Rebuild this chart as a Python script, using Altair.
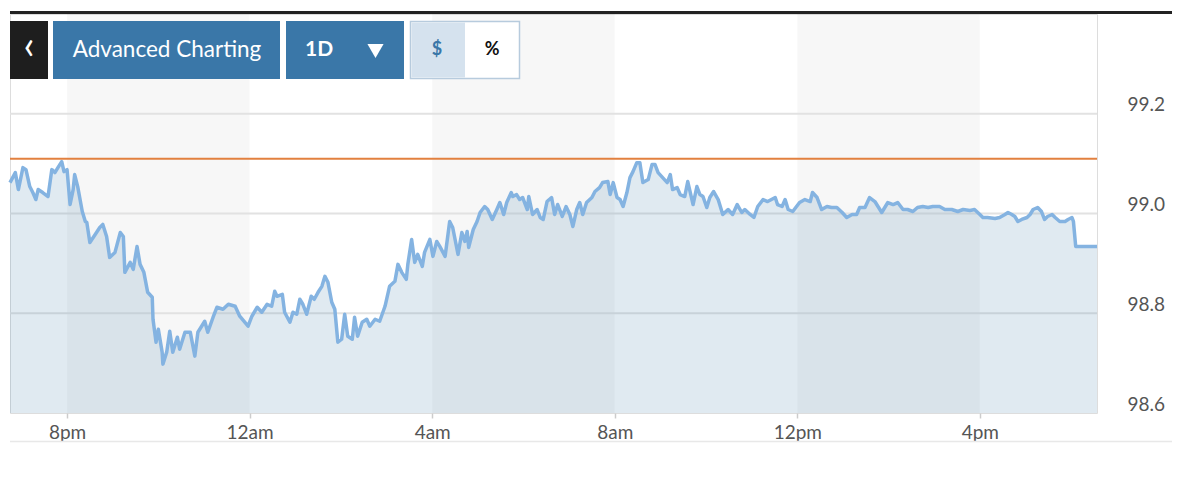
import altair as alt
import pandas as pd

# ---- data ----
# minutes after 18:45 (session start) and price
t_min = [0, 7, 11, 17, 21, 26, 30, 34, 37, 43, 50, 55, 59, 63, 68, 71, 75, 79, 83, 85,
         89, 95, 99, 101, 105, 112, 118, 122, 127, 131, 138, 145, 149, 151, 158, 162, 167, 171, 176, 181,
         187, 188, 192, 195, 200, 201, 206, 210, 214, 220, 223, 230, 237, 243, 247, 256, 260, 267, 272, 280,
         287, 296, 302, 313, 318, 325, 331, 338, 344, 348, 351, 358, 361, 368, 372, 377, 381, 385, 390, 396,
         400, 405, 410, 414, 418, 423, 427, 431, 436, 440, 444, 450, 453, 457, 463, 469, 473, 480, 486, 493,
         499, 506, 510, 515, 521, 523, 528, 532, 536, 542, 545, 552, 556, 561, 565, 572, 578, 582, 589, 594,
         598, 601, 603, 609, 614, 618, 624, 628, 634, 640, 644, 649, 653, 659, 661, 666, 670, 674, 680, 682,
         687, 693, 697, 701, 706, 712, 716, 720, 726, 731, 736, 740, 745, 749, 753, 758, 765, 769, 775, 779,
         786, 789, 793, 798, 802, 806, 811, 815, 819, 824, 828, 832, 839, 844, 848, 852, 858, 864, 868, 871,
         877, 881, 887, 891, 898, 903, 907, 911, 916, 920, 925, 931, 937, 944, 950, 956, 962, 966, 973, 978,
         983, 990, 996, 1006, 1009, 1015, 1019, 1023, 1029, 1038, 1045, 1052, 1055, 1061, 1067, 1074, 1080, 1087, 1094, 1100,
         1107, 1113, 1117, 1124, 1130, 1137, 1146, 1154, 1161, 1167, 1174, 1180, 1187, 1193, 1200, 1207, 1213, 1222, 1229, 1238,
         1246, 1253, 1262, 1268, 1275, 1279, 1285, 1295, 1301, 1308, 1312, 1317, 1321, 1325, 1330, 1337, 1341, 1345, 1351, 1356,
         1360, 1364, 1370, 1374, 1380, 1387, 1391, 1396, 1398, 1401, 1429]
price = [99.062, 99.082, 99.048, 99.092, 99.088, 99.054, 99.042, 99.028, 99.048, 99.042, 99.034, 99.088, 99.082, 99.092, 99.104, 99.084, 99.088, 99.018, 99.048, 99.078,
         99.054, 99.004, 98.984, 98.982, 98.942, 98.958, 98.972, 98.978, 98.954, 98.912, 98.922, 98.962, 98.954, 98.882, 98.902, 98.888, 98.934, 98.898, 98.882, 98.842,
         98.832, 98.788, 98.742, 98.768, 98.722, 98.698, 98.722, 98.764, 98.722, 98.752, 98.728, 98.762, 98.762, 98.714, 98.762, 98.784, 98.762, 98.792, 98.812, 98.808,
         98.818, 98.814, 98.794, 98.774, 98.794, 98.812, 98.802, 98.818, 98.814, 98.844, 98.834, 98.838, 98.802, 98.782, 98.802, 98.798, 98.828, 98.818, 98.798, 98.834,
         98.828, 98.842, 98.854, 98.874, 98.862, 98.822, 98.808, 98.742, 98.748, 98.798, 98.754, 98.748, 98.792, 98.754, 98.782, 98.788, 98.774, 98.788, 98.784, 98.814,
         98.854, 98.864, 98.898, 98.882, 98.868, 98.898, 98.948, 98.902, 98.918, 98.894, 98.922, 98.948, 98.914, 98.944, 98.934, 98.914, 98.984, 98.972, 98.918, 98.962,
         98.944, 98.964, 98.932, 98.968, 98.984, 99.002, 99.014, 99.008, 98.988, 99.008, 99.022, 98.998, 99.022, 99.042, 99.034, 99.038, 99.028, 99.032, 99.008, 99.034,
         98.998, 99.008, 98.992, 98.988, 99.024, 99.032, 98.998, 99.018, 98.994, 99.014, 98.998, 98.974, 99.008, 99.022, 98.998, 99.022, 99.032, 99.044, 99.052, 99.062,
         99.064, 99.038, 99.062, 99.032, 99.028, 99.014, 99.042, 99.072, 99.084, 99.102, 99.102, 99.062, 99.068, 99.098, 99.098, 99.082, 99.072, 99.062, 99.078, 99.048,
         99.052, 99.038, 99.034, 99.064, 99.018, 99.054, 99.038, 99.034, 99.012, 99.032, 99.044, 99.028, 98.998, 99.008, 98.998, 99.018, 99.002, 99.008, 98.998, 98.992,
         99.014, 99.028, 99.024, 99.032, 99.018, 99.014, 99.028, 99.008, 99.004, 99.022, 99.028, 99.024, 99.042, 99.032, 99.008, 99.014, 99.012, 99.012, 99.002, 98.992,
         98.998, 98.998, 99.012, 99.012, 99.032, 99.024, 99.002, 99.022, 99.018, 99.022, 99.008, 99.008, 99.004, 99.012, 99.014, 99.012, 99.014, 99.014, 99.008, 99.008,
         99.004, 99.008, 99.006, 99.008, 98.998, 98.992, 98.992, 98.990, 98.992, 98.998, 99.002, 98.998, 98.994, 98.984, 98.988, 98.992, 98.998, 99.008, 99.012, 99.004,
         98.988, 98.994, 98.998, 98.992, 98.984, 98.984, 98.988, 98.992, 98.984, 98.934, 98.934]

prev_close = [99.11]
x_domain = [0, 1429]
y_domain = [98.6, 99.4]
tick_minutes = [75, 315, 555, 795, 1035, 1275]
tick_labels = ["8pm", "12am", "4am", "8am", "12pm", "4pm"]
y_ticks = [98.6, 98.8, 99.0, 99.2]
grid_vals = [98.8, 99.0, 99.2]
band_start = [75, 555, 1035]
band_end = [315, 795, 1275]

df = pd.DataFrame({"t": t_min, "price": price})
df["base"] = y_domain[0]
bands = pd.DataFrame({"s": band_start, "e": band_end})
grid = pd.DataFrame({"g": grid_vals})
pc = pd.DataFrame({"p": prev_close})
one = pd.DataFrame({"k": [0]})

W, H = 1087, 399
FONT = "Lato"

label_expr = ""
for v, l in zip(tick_minutes, tick_labels):
    label_expr += f"datum.value == {v} ? '{l}' : "
label_expr += "''"

xs = alt.Scale(domain=x_domain, nice=False, zero=False)
ys = alt.Scale(domain=y_domain, nice=False, zero=False)

band_layer = alt.Chart(bands).mark_rect(fill="#000000", fillOpacity=0.032).encode(
    x=alt.X("s:Q", scale=xs), x2="e:Q", y=alt.value(0), y2=alt.value(H)
)

grid_layer = alt.Chart(grid).mark_rule(color="#e2e2e2", strokeWidth=2).encode(
    y=alt.Y("g:Q", scale=ys), x=alt.value(0), x2=alt.value(W)
)

area = alt.Chart(df).mark_area(fill="#6496b9", fillOpacity=0.2).encode(
    x=alt.X("t:Q", scale=xs, axis=alt.Axis(
        values=tick_minutes, labelExpr=label_expr, title=None, grid=False, domain=False,
        ticks=True, tickSize=5, tickColor="#cccccc", tickWidth=1.5, labelPadding=5,
        labelFont=FONT, labelFontSize=19, labelColor="#555555")),
    y=alt.Y("price:Q", scale=ys, axis=alt.Axis(
        orient="right", values=y_ticks, format=".1f", title=None, grid=False, domain=False,
        ticks=False, tickSize=0, labelPadding=30, labelAlign="left", labelBaseline="alphabetic",
        labelOffset=-3, labelFont=FONT, labelFontSize=19, labelColor="#555555")),
    y2="base:Q",
)

line = alt.Chart(df).mark_line(color="#84b3e1", strokeWidth=3.5, strokeJoin="round").encode(
    x=alt.X("t:Q", scale=xs), y=alt.Y("price:Q", scale=ys)
)

pc_layer = alt.Chart(pc).mark_rule(color="#e2803f", strokeWidth=2).encode(
    y=alt.Y("p:Q", scale=ys), x=alt.value(0), x2=alt.value(W)
)

# decorations (toolbar and frame lines)
top_line = alt.Chart(one).mark_rule(color="#222222", strokeWidth=3).encode(
    x=alt.value(0), x2=alt.value(1162), y=alt.value(-1.5))
bottom_line = alt.Chart(one).mark_rule(color="#e8e8e8", strokeWidth=1.5).encode(
    x=alt.value(0), x2=alt.value(1162), y=alt.value(427.5))

back_btn = alt.Chart(one).mark_rect(fill="#1e1e1e").encode(
    x=alt.value(0), x2=alt.value(38), y=alt.value(7), y2=alt.value(65))
back_txt = alt.Chart(one).mark_text(font=FONT, fontSize=40, color="white", align="center", baseline="middle").encode(
    x=alt.value(19), y=alt.value(33), text=alt.value("‹"))

adv_btn = alt.Chart(one).mark_rect(fill="#3a77a8").encode(
    x=alt.value(43), x2=alt.value(270), y=alt.value(7), y2=alt.value(65))
adv_txt = alt.Chart(one).mark_text(font=FONT, fontSize=22.5, color="white", align="center", baseline="middle").encode(
    x=alt.value(157), y=alt.value(36), text=alt.value("Advanced Charting"))

d_btn = alt.Chart(one).mark_rect(fill="#3a77a8").encode(
    x=alt.value(276), x2=alt.value(394), y=alt.value(7), y2=alt.value(65))
d_txt = alt.Chart(one).mark_text(font=FONT, fontSize=21, fontWeight="bold", color="white", align="left", baseline="middle").encode(
    x=alt.value(295), y=alt.value(36), text=alt.value("1D"))
d_tri = alt.Chart(one).mark_point(shape="triangle-down", filled=True, fill="white", opacity=1, size=260).encode(
    x=alt.value(365.5), y=alt.value(37))

cur_box = alt.Chart(one).mark_rect(fill="white", stroke="#b7cbdd", strokeWidth=1.5).encode(
    x=alt.value(400.5), x2=alt.value(509.5), y=alt.value(7.5), y2=alt.value(64.5))
usd_fill = alt.Chart(one).mark_rect(fill="#d5e2ee").encode(
    x=alt.value(401.5), x2=alt.value(455), y=alt.value(8.5), y2=alt.value(63.5))
usd_txt = alt.Chart(one).mark_text(font=FONT, fontSize=18, fontWeight="bold", color="#3a77a8", align="center", baseline="middle").encode(
    x=alt.value(427), y=alt.value(36), text=alt.value("$"))
pct_txt = alt.Chart(one).mark_text(font=FONT, fontSize=18, fontWeight="bold", color="#111111", align="center", baseline="middle").encode(
    x=alt.value(482), y=alt.value(36), text=alt.value("%"))

chart = alt.layer(
    band_layer, grid_layer, area, line, pc_layer,
    top_line, bottom_line,
    back_btn, back_txt, adv_btn, adv_txt, d_btn, d_txt, d_tri,
    cur_box, usd_fill, usd_txt, pct_txt,
).properties(
    width=W, height=H,
    autosize=alt.AutoSizeParams(type="none"),
    padding={"left": 2, "top": 6, "right": 80, "bottom": 50},
).configure_view(stroke=None).configure(background="white")

chart.save("out.html", embed_options={"renderer": "svg", "actions": False})
